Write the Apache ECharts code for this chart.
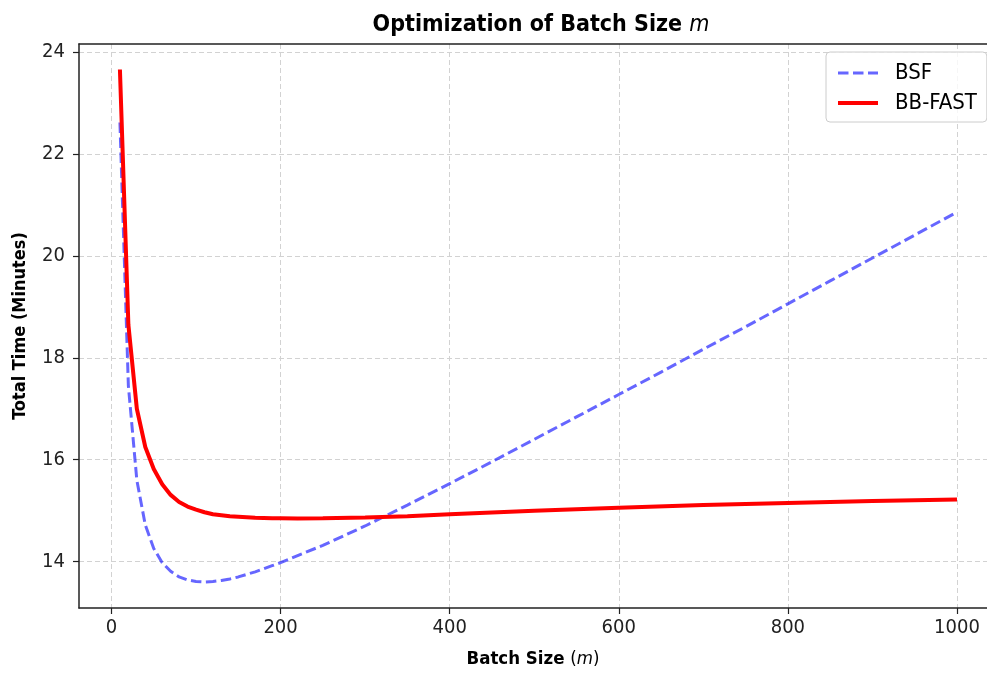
<!DOCTYPE html>
<html>
<head>
<meta charset="utf-8">
<script src="https://cdn.jsdelivr.net/npm/echarts@6.0.0/dist/echarts.min.js"></script>
<style>
  html, body { margin: 0; padding: 0; background: #fff; }
  #main { width: 987px; height: 674px; }
</style>
</head>
<body>
<div id="main"></div>
<script>
// batch sizes and total time (minutes)
const bsfBatch = [10, 20, 30, 40, 50, 60, 70, 80, 90, 100, 110, 120, 130, 140, 150, 160, 170, 180, 190, 200,
  250, 300, 350, 400, 450, 500, 550, 600, 650, 700, 750, 800, 850, 900, 950, 1000];
const bsfTime = [22.62, 17.45, 15.6, 14.72, 14.26, 13.98, 13.81, 13.7, 13.64, 13.61, 13.6, 13.61, 13.63, 13.66, 13.7, 13.75, 13.8, 13.86, 13.92, 13.98,
  14.32, 14.7, 15.11, 15.53, 15.96, 16.4, 16.84, 17.28, 17.72, 18.17, 18.61, 19.06, 19.51, 19.96, 20.41, 20.86];

const fastBatch = [10, 20, 30, 40, 50, 60, 70, 80, 90, 100, 110, 120, 130, 140, 150, 160, 170, 180, 190, 200,
  220, 250, 300, 350, 400, 500, 600, 700, 800, 900, 1000];
const fastTime = [23.66, 18.65, 17.0, 16.25, 15.82, 15.52, 15.31, 15.17, 15.08, 15.02, 14.97, 14.93, 14.91, 14.89, 14.88, 14.87, 14.86, 14.855, 14.85, 14.85,
  14.845, 14.85, 14.865, 14.89, 14.93, 15.0, 15.06, 15.11, 15.15, 15.19, 15.22];

const xTicks = [0, 200, 400, 600, 800, 1000];
const yTicks = [14, 16, 18, 20, 22, 24];

const font = "DejaVu Sans Condensed, DejaVu Sans";
const pairs = (xs, ys) => xs.map((x, i) => [x, ys[i]]);

const chart = echarts.init(document.getElementById("main"));

const gridLine = { show: true, lineStyle: { color: "#d2d2d2", width: 1, type: [5, 3] } };
const spine = { show: true, onZero: false, lineStyle: { color: "#222", width: 1.5 } };

chart.setOption({
  animation: false,
  title: {
    text: "{b|Optimization of Batch Size }{i|m}",
    left: 536,
    textAlign: "center",
    top: 9,
    textStyle: {
      rich: {
        b: { fontFamily: font, fontWeight: "bold", fontSize: 23, color: "#000" },
        i: { fontFamily: font, fontStyle: "italic", fontWeight: "normal", fontSize: 23, color: "#000" },
      },
    },
  },
  legend: {
    orient: "vertical",
    left: 826,
    top: 52,
    padding: [10, 10, 8, 10],
    itemGap: 8,
    itemWidth: 40,
    itemHeight: 14,
    borderColor: "#cccccc",
    borderWidth: 1,
    borderRadius: 4,
    backgroundColor: "rgba(255,255,255,0.8)",
    itemStyle: { opacity: 0 },
    textStyle: { fontFamily: font, fontSize: 22, color: "#000", padding: [0, 0, 0, 12] },
    data: [
      { name: "BSF", lineStyle: { width: 3 } },
      { name: "BB-FAST", lineStyle: { width: 4 } },
    ],
  },
  grid: {
    left: 79,
    top: 44,
    right: 0,
    height: 569,
  },
  xAxis: [
    {
      type: "value",
      min: -38.4,
      max: 1035.5,
      name: "{b|Batch Size }{n|(}{i|m}{n|)}",
      nameLocation: "middle",
      nameGap: 42,
      nameTextStyle: {
        rich: {
          b: { fontFamily: font, fontWeight: "bold", fontSize: 18.5, color: "#000" },
          n: { fontFamily: font, fontSize: 18.5, color: "#000" },
          i: { fontFamily: font, fontStyle: "italic", fontSize: 18.5, color: "#000" },
        },
      },
      axisLine: spine,
      axisTick: { show: true, length: 6, customValues: xTicks, lineStyle: { color: "#222", width: 1.2 } },
      axisLabel: { customValues: xTicks, margin: 10, fontFamily: font, fontSize: 20, color: "#222", formatter: (v) => String(v) },
      splitLine: gridLine,
    },
    {
      type: "value",
      position: "top",
      min: -38.4,
      max: 1035.5,
      axisLine: spine,
      axisTick: { show: false },
      axisLabel: { show: false },
      splitLine: { show: false },
    },
  ],
  yAxis: {
    type: "value",
    min: 13.09,
    max: 24.16,
    name: "Total Time (Minutes)",
    nameLocation: "middle",
    nameGap: 50,
    nameTextStyle: { fontFamily: font, fontWeight: "bold", fontSize: 18, color: "#000" },
    axisLine: spine,
    axisTick: { show: true, length: 6, customValues: yTicks, lineStyle: { color: "#222", width: 1.2 } },
    axisLabel: { customValues: yTicks, margin: 14, fontFamily: font, fontSize: 20, color: "#222" },
    splitLine: gridLine,
  },
  series: [
    {
      name: "BSF",
      type: "line",
      xAxisIndex: 0,
      data: pairs(bsfBatch, bsfTime),
      symbol: "none",
      z: 2,
      lineStyle: { color: "rgba(0,0,255,0.6)", width: 3, type: [10.5, 4.5] },
      itemStyle: { color: "rgba(0,0,255,0.6)" },
    },
    {
      name: "BB-FAST",
      type: "line",
      xAxisIndex: 0,
      data: pairs(fastBatch, fastTime),
      symbol: "none",
      z: 3,
      lineStyle: { color: "#ff0000", width: 4 },
      itemStyle: { color: "#ff0000" },
    },
  ],
});
</script>
</body>
</html>
